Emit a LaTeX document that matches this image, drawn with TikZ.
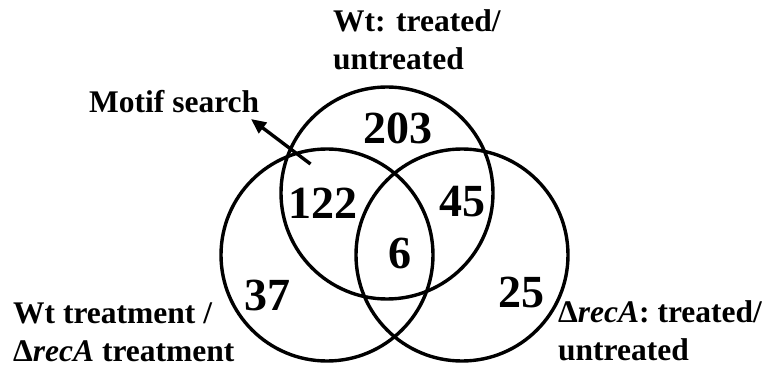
\documentclass[tikz,border=0pt]{standalone}
\usepackage{fontspec}
\setmainfont{Liberation Serif}
\usetikzlibrary{arrows.meta}

\tikzset{
  setcircle/.style={circle, draw, line width=3.4pt, minimum size=212pt, inner sep=0pt},
  count/.style={font=\fontsize{46}{50}\selectfont\bfseries, inner sep=0pt},
  setlabel/.style={font=\fontsize{31.5}{38.5}\selectfont\bfseries, align=left, inner sep=0pt, anchor=base west},
  pointer/.style={line width=3.4pt, -{Triangle[length=15pt,width=13pt]}}
}

\begin{document}
\begin{tikzpicture}[x=1pt,y=-1pt]
  \useasboundingbox (0,0) rectangle (771,374);

  % the three sets
  \node[setcircle] (wt)    at (387,193) {};
  \node[setcircle] (wtrec) at (327,255) {};
  \node[setcircle] (rec)   at (462,255) {};

  % counts in each region
  \node[count] (n203) at (398,128) {203};
  \node[count] (n122) at (323,203) {122};
  \node[count] (n45)  at (462,202) {45};
  \node[count] (n6)   at (400,253) {6};
  \node[count] (n37)  at (267,295) {37};
  \node[count] (n25)  at (521,292) {25};

  % set labels (anchored on the baseline of their last line)
  \node[setlabel] (lwt) at (333,70) {Wt: treated/\\untreated};
  \node[setlabel] (lwtrec) at (13,361.5) {Wt treatment /\\Δ\textit{recA} treatment};
  \node[setlabel] (lrec) at (558,360.5) {Δ\textit{recA}: treated/\\untreated};

  % motif search pointer
  \node[setlabel] (motif) at (89,113) {Motif search};
  \coordinate (motiftail) at (310.5,164);
  \coordinate (motiftip) at (251,119);
  \draw[pointer] (motiftail) -- (motiftip);
\end{tikzpicture}
\end{document}
